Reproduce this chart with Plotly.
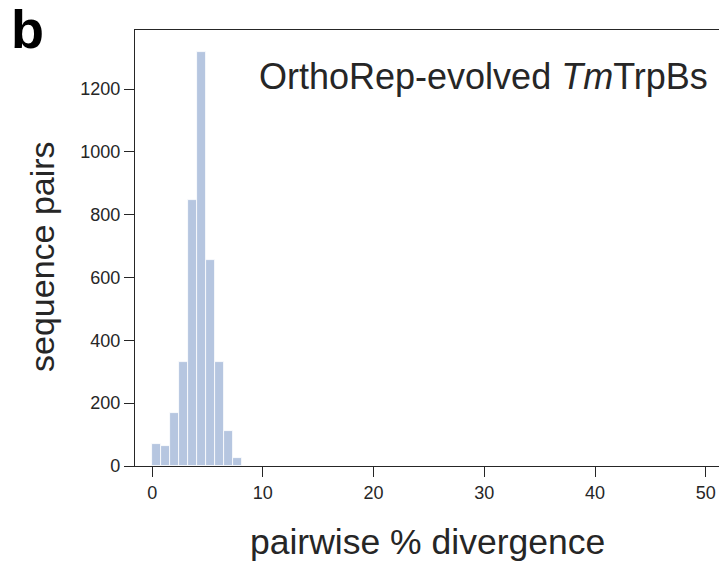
import plotly.graph_objects as go

# Histogram data (bin width ~0.81 % divergence)
bin_left_edges = [0.0, 0.81, 1.62, 2.43, 3.24, 4.05, 4.86, 5.67, 6.48, 7.29]
bin_width = 0.81
counts = [70, 65, 168, 332, 847, 1319, 656, 332, 111, 24]

x_ticks = [0, 10, 20, 30, 40, 50]
y_ticks = [0, 200, 400, 600, 800, 1000, 1200]

centers = [e + bin_width / 2 for e in bin_left_edges]

FONT = "Liberation Sans, Arial, Helvetica, sans-serif"
DARK = "#262626"

W, H = 719, 565
L, R, T, B = 135, 0, 30, 99
PW, PH = W - L - R, H - T - B


def px_to_paper(x, y):
    return (x - L) / PW, 1 - (y - T) / PH


fig = go.Figure()
fig.add_trace(go.Bar(
    x=centers, y=counts, width=bin_width,
    marker=dict(color="#b6c6e0", line=dict(color="white", width=0.8)),
    showlegend=False,
))

bx, by = px_to_paper(9, -3)
yx, yy = px_to_paper(42, 257)
xx, xy = px_to_paper(427, 542)

fig.update_layout(
    width=W, height=H,
    margin=dict(l=L, r=R, t=T, b=B),
    plot_bgcolor="white", paper_bgcolor="white",
    font=dict(family=FONT, color=DARK),
    bargap=0,
    xaxis=dict(
        range=[-1.55, 51.2], tickvals=x_ticks, ticks="outside", ticklen=10,
        tickwidth=1.2, tickcolor=DARK, showline=True, linecolor=DARK, linewidth=1.3,
        mirror=True, showgrid=False, zeroline=False,
        tickfont=dict(size=18, color=DARK, family=FONT),
    ),
    yaxis=dict(
        range=[0, 1388], tickvals=y_ticks, ticks="outside", ticklen=10,
        tickwidth=1.2, tickcolor=DARK, showline=True, linecolor=DARK, linewidth=1.3,
        mirror=False, showgrid=False, zeroline=False,
        tickfont=dict(size=18, color=DARK, family=FONT),
    ),
    annotations=[
        dict(text="<b>b</b>", x=bx, y=by, xref="paper", yref="paper",
             xanchor="left", yanchor="top", showarrow=False,
             font=dict(size=54, color="black", family=FONT)),
        dict(text="OrthoRep-evolved <i>Tm</i>TrpBs", x=0.985, y=0.945,
             xref="paper", yref="paper", xanchor="right", yanchor="top",
             showarrow=False, font=dict(size=36, color=DARK, family=FONT)),
        dict(text="sequence pairs", x=yx, y=yy, xref="paper", yref="paper",
             xanchor="center", yanchor="middle", textangle=-90, showarrow=False,
             font=dict(size=34, color=DARK, family=FONT)),
        dict(text="pairwise % divergence", x=xx, y=xy, xref="paper", yref="paper",
             xanchor="center", yanchor="middle", showarrow=False,
             font=dict(size=35.5, color=DARK, family=FONT)),
    ],
)

fig.write_html("out.html")
